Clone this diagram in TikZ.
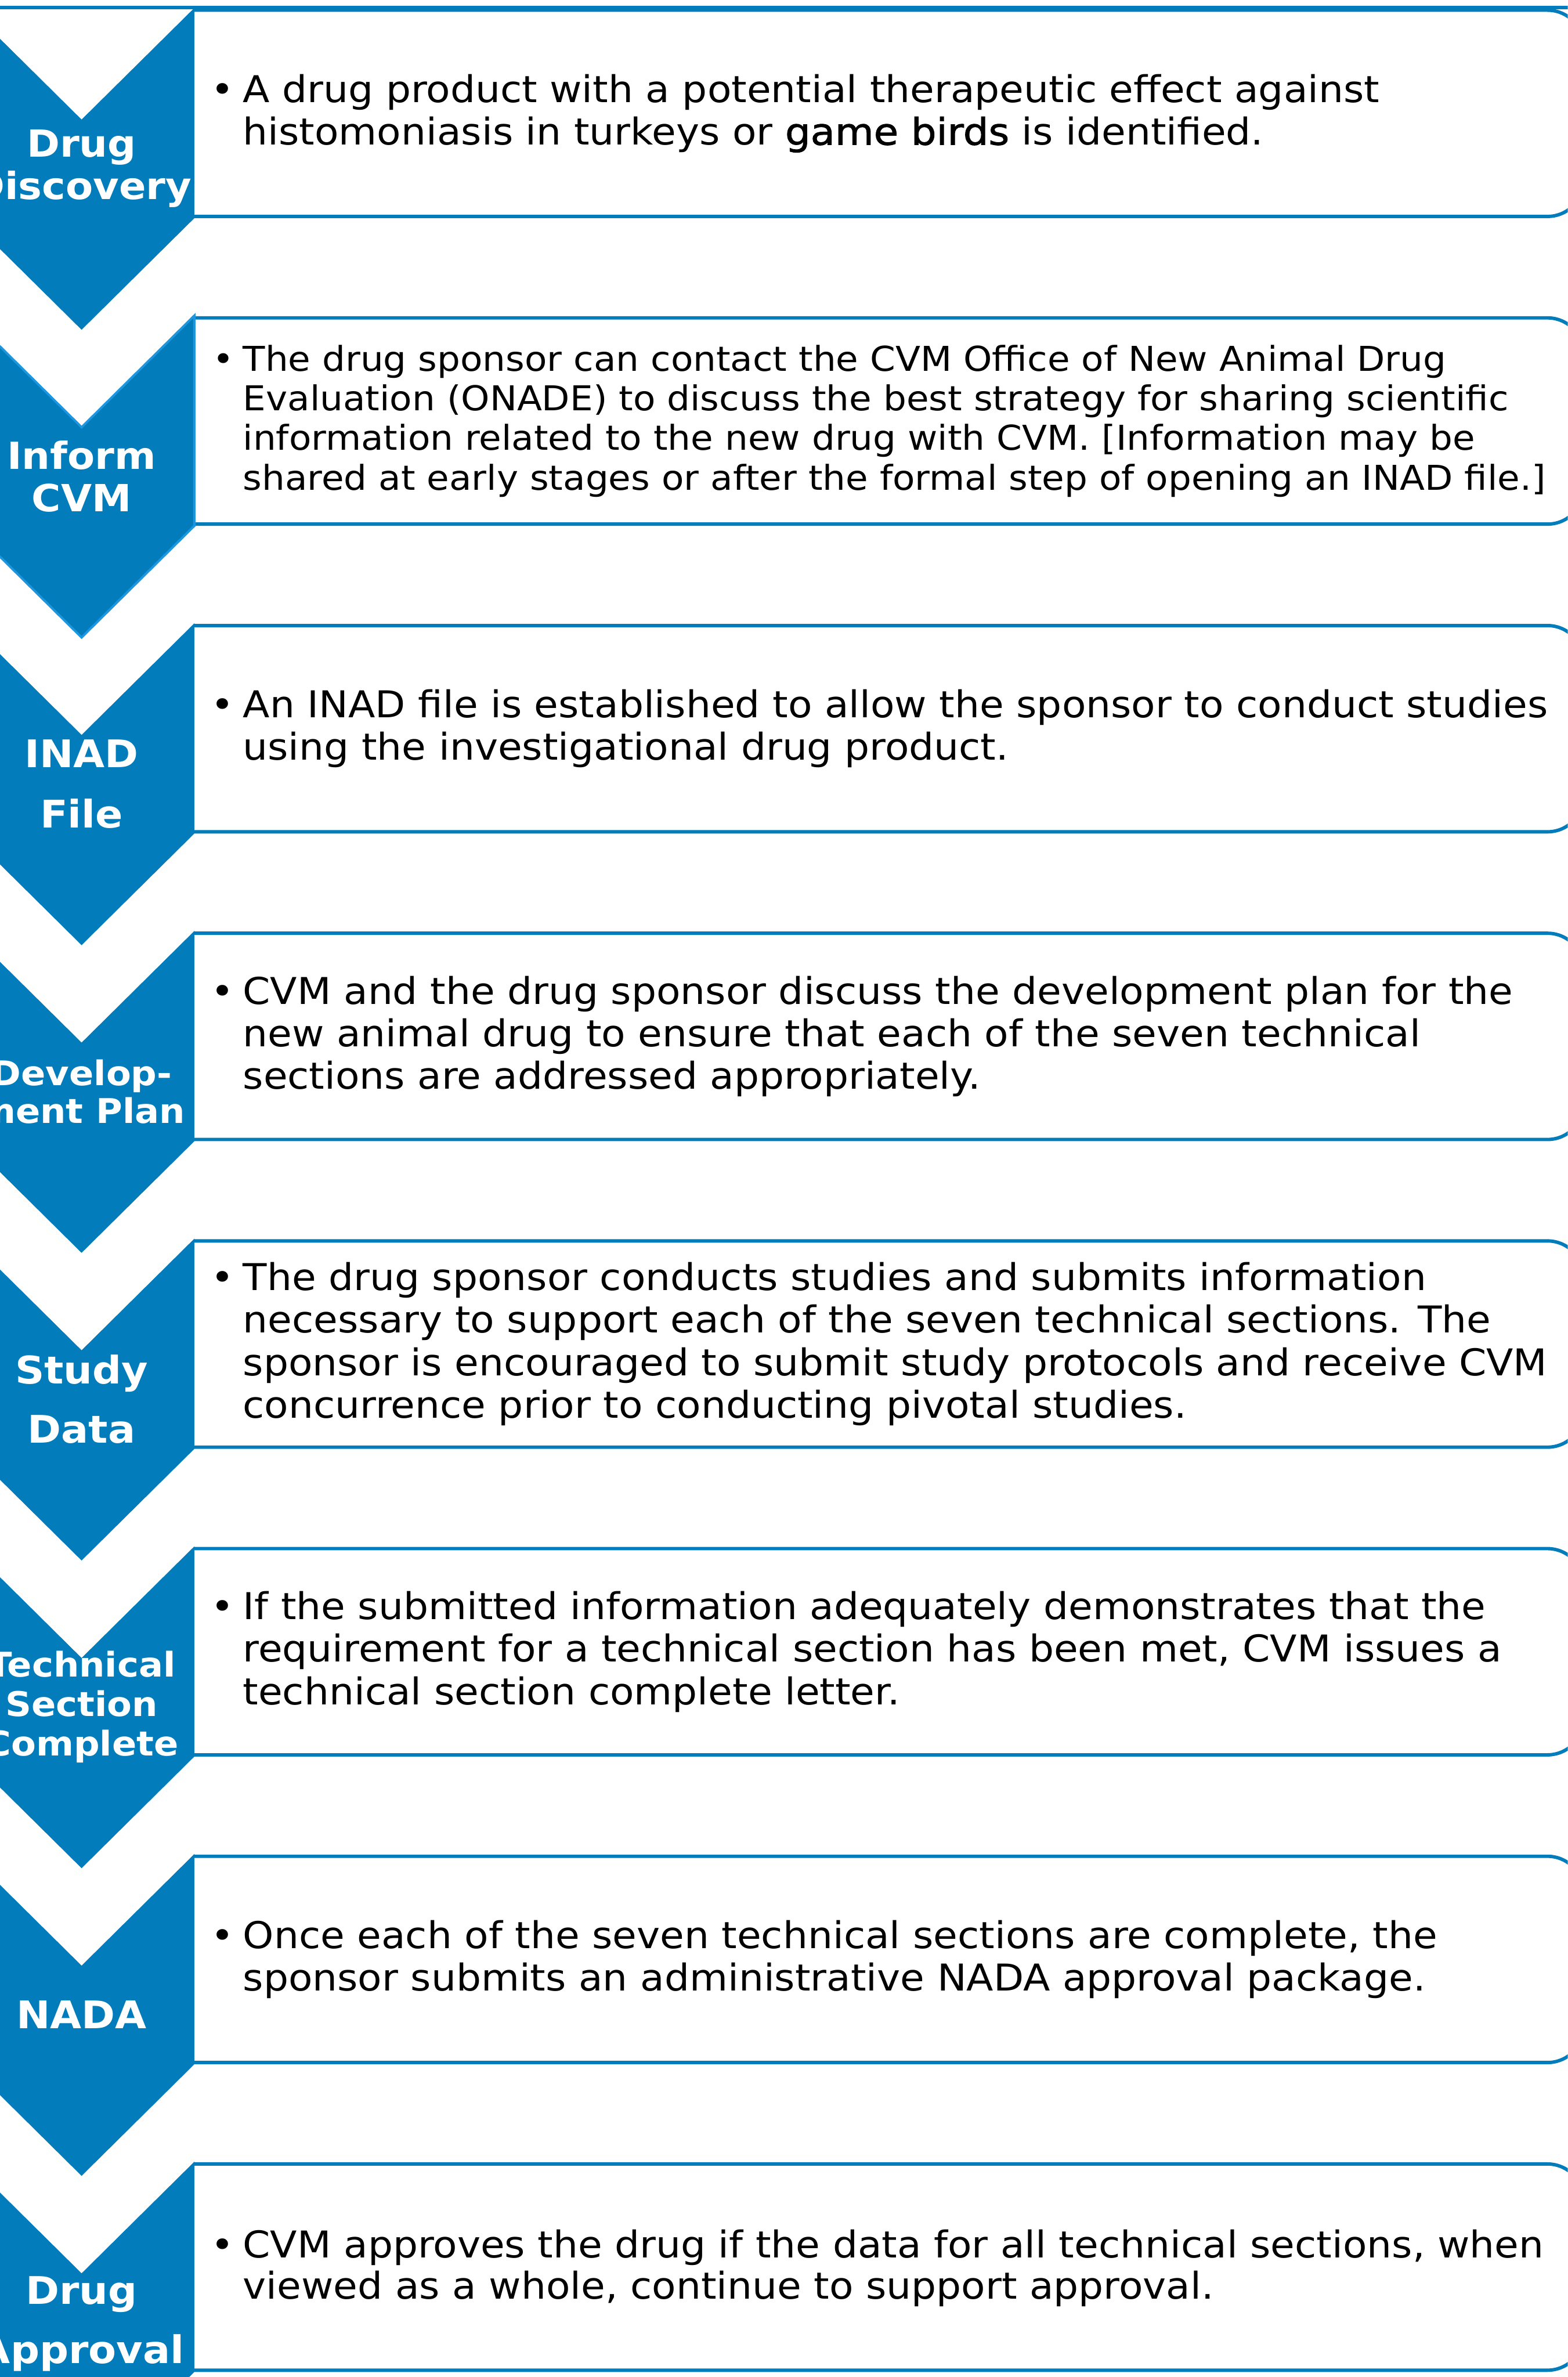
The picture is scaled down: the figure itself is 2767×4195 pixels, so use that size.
\documentclass[tikz,border=0pt]{standalone}
\usepackage{fontspec}
\setmainfont{DejaVu Sans}[FakeStretch=1.065]
\newfontfamily\birdfont{DejaVu Sans}[FakeBold=1.5, FakeStretch=1.08]
\definecolor{chevblue}{RGB}{2,124,186}
\definecolor{edgeblue}{RGB}{28,150,222}
\newcommand{\bul}{\llap{\textbullet\hspace{4pt}}}
\begin{document}
\begin{tikzpicture}[x=0.25pt,y=-0.25pt,
  chev/.style={fill=chevblue},
  boxline/.style={draw=chevblue, line width=1.5pt, rounded corners=16pt},
  lbl/.style={text=white, align=center, inner sep=0pt,
    font={\fontsize{16.5}{18.75}\selectfont\bfseries}},
  body/.style={anchor=west, align=left, inner sep=0pt, text=black,
    font={\fontsize{16.3}{18.75}\selectfont}},
]
\useasboundingbox (0,0) rectangle (2767,4195);
\clip (0,0) rectangle (2767,4195);
\fill[white] (0,0) rectangle (2767,4195);

% rule along the top edge
\draw[chevblue, line width=1.6pt] (0,13) -- (2767,13);

% text boxes and chevrons, one row per step
\foreach \k in {0,...,7}{
  \pgfmathsetmacro{\T}{14+543*\k}
  \draw[boxline] (343,\T+4) -- (2795,\T+4) -- (2795,\T+368) -- (343,\T+368);
  \fill[chev] (-55,\T) -- (144,\T+197) -- (343,\T) -- (343,\T+371)
              -- (144,\T+568) -- (-55,\T+371) -- cycle;
}
% lighter rim on the second chevron
\draw[edgeblue, line width=1pt, line join=miter]
  (-55,557) -- (144,754) -- (343,557) -- (343,928) -- (144,1125) -- (-55,928);

% step labels
\node[lbl] (l1) at (144,297.5)  {Drug\\Discovery};
\node[lbl] (l2) at (144,840.5)  {Inform\\CVM};
\node[lbl, font={\fontsize{16.8}{26.5}\selectfont\bfseries}] (l3) at (144,1383.5) {INAD\\File};
\node[lbl, font={\fontsize{15}{16.75}\selectfont\bfseries}] (l4) at (144,1926.5) {Develop-\\ment Plan};
\node[lbl, font={\fontsize{16.8}{26}\selectfont\bfseries}] (l5) at (144,2469.5) {Study\\Data};
\node[lbl, font={\fontsize{15}{17.5}\selectfont\bfseries}] (l6) at (144,3012.5) {Technical\\Section\\Complete};
\node[lbl, font={\fontsize{16.8}{18.75}\selectfont\bfseries}] (l7) at (144,3555.5) {NADA};
\node[lbl, font={\fontsize{16.8}{26.25}\selectfont\bfseries}] (l8) at (144,4101) {Drug\\Approval};

% step descriptions
\node[body] (t1) at (428,200) {\bul A drug product with a potential therapeutic effect against\\
  histomoniasis in turkeys or {\birdfont game birds} is identified.};
\node[body, font={\fontsize{15.1}{17.5}\selectfont}] (t2) at (428,743) {\bul The drug sponsor can contact the CVM Office of New Animal Drug\\
  Evaluation (ONADE) to discuss the best strategy for sharing scientific\\
  information related to the new drug with CVM. [Information may be\\
  shared at early stages or after the formal step of opening an INAD file.]};
\node[body] (t3) at (428,1286) {\bul An INAD file is established to allow the sponsor to conduct studies\\
  using the investigational drug product.};
\node[body] (t4) at (428,1829) {\bul CVM and the drug sponsor discuss the development plan for the\\
  new animal drug to ensure that each of the seven technical\\
  sections are addressed appropriately.};
\node[body] (t5) at (428,2372) {\bul The drug sponsor conducts studies and submits information\\
  necessary to support each of the seven technical sections. The\\
  sponsor is encouraged to submit study protocols and receive CVM\\
  concurrence prior to conducting pivotal studies.};
\node[body] (t6) at (428,2915) {\bul If the submitted information adequately demonstrates that the\\
  requirement for a technical section has been met, CVM issues a\\
  technical section complete letter.};
\node[body] (t7) at (428,3458) {\bul Once each of the seven technical sections are complete, the\\
  sponsor submits an administrative NADA approval package.};
\node[body, font={\fontsize{16.3}{18}\selectfont}] (t8) at (428,4003) {\bul CVM approves the drug if the data for all technical sections, when\\
  viewed as a whole, continue to support approval.};
\end{tikzpicture}
\end{document}
